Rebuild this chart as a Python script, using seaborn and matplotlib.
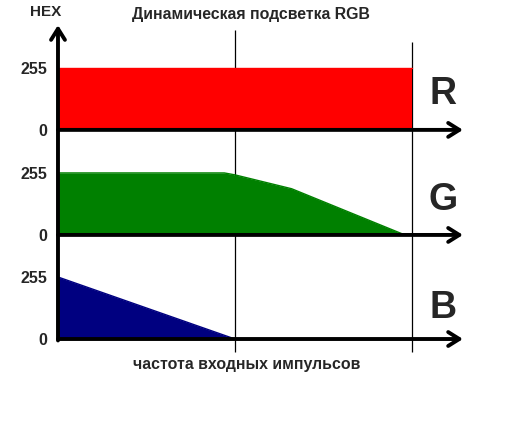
import matplotlib
matplotlib.use('Agg')
import matplotlib.pyplot as plt
import seaborn as sns

# channel curves: x = input pulse frequency (arbitrary units), y = HEX value
channels = ['R', 'G', 'B']
colors = ['#ff0000', '#008000', '#000080']
r_x = [0, 100]
r_y = [255, 255]
g_x = [0, 47, 50, 66, 98]
g_y = [255, 255, 247, 190, 0]
b_x = [0, 50]
b_y = [255, 0]
offsets = [860, 428, 0]          # vertical stacking of the three panels
marks_x = [50, 100]              # thin vertical guide lines
tick_labels = ['0', '255']

sns.set_style('white')
plt.rcParams['font.family'] = ['Liberation Sans', 'DejaVu Sans']
plt.rcParams['font.weight'] = 'bold'

fig = plt.figure(figsize=(5.32, 4.21), dpi=100)
ax = fig.add_axes([0.109, 0.1601, 0.7985, 0.7855])
ax.set_xlim(0, 120)
ax.set_ylim(-60, 1300)
for s in ax.spines.values():
    s.set_visible(False)
ax.set_xticks([])

# thin guide lines
ax.vlines(marks_x[0], -53, 1271, color='black', lw=0.9, zorder=1)
ax.vlines(marks_x[1], -53, 1222, color='black', lw=0.9, zorder=1)

label_shift = [146, 142, 129]
series = [(r_x, r_y), (g_x, g_y), (b_x, b_y)]
for (xs, ys), name, c, off, dy in zip(series, channels, colors, offsets, label_shift):
    top = [off + v for v in ys]
    ax.fill_between(xs, off, top, color=c, lw=0, zorder=2)
    sns.lineplot(x=xs, y=top, color=c, lw=1, ax=ax, zorder=2)
    ax.annotate('', xy=(114.4, off), xytext=(0, off),
                arrowprops=dict(arrowstyle='->,head_length=0.8,head_width=0.5',
                                lw=2.8, color='black', shrinkA=0, shrinkB=0),
                zorder=3)
    ax.text(108.8, off + dy, name, fontsize=27, fontweight='bold',
            ha='center', va='center')

# vertical axis with arrow
ax.annotate('', xy=(0, 1291), xytext=(0, -6),
            arrowprops=dict(arrowstyle='->,head_length=0.8,head_width=0.5',
                            lw=2.8, color='black', shrinkA=0, shrinkB=0),
            zorder=4)

yt = []
yl = []
for off in offsets:
    yt += [off, off + 255]
    yl += tick_labels
ax.set_yticks(yt, yl)
ax.tick_params(axis='y', length=0, pad=8, labelsize=11.5)

fig.text(46 / 532, 1 - 12 / 421, 'HEX', fontsize=11, fontweight='bold',
         ha='center', va='center')
fig.text(251 / 532, 1 - 15 / 421, 'Динамическая подсветка RGB', fontsize=11.4,
         fontweight='bold', ha='center', va='center')
fig.text(247 / 532, 1 - 365 / 421, 'частота входных импульсов', fontsize=11.4,
         fontweight='bold', ha='center', va='center')

fig.savefig('out.png', dpi=100)
